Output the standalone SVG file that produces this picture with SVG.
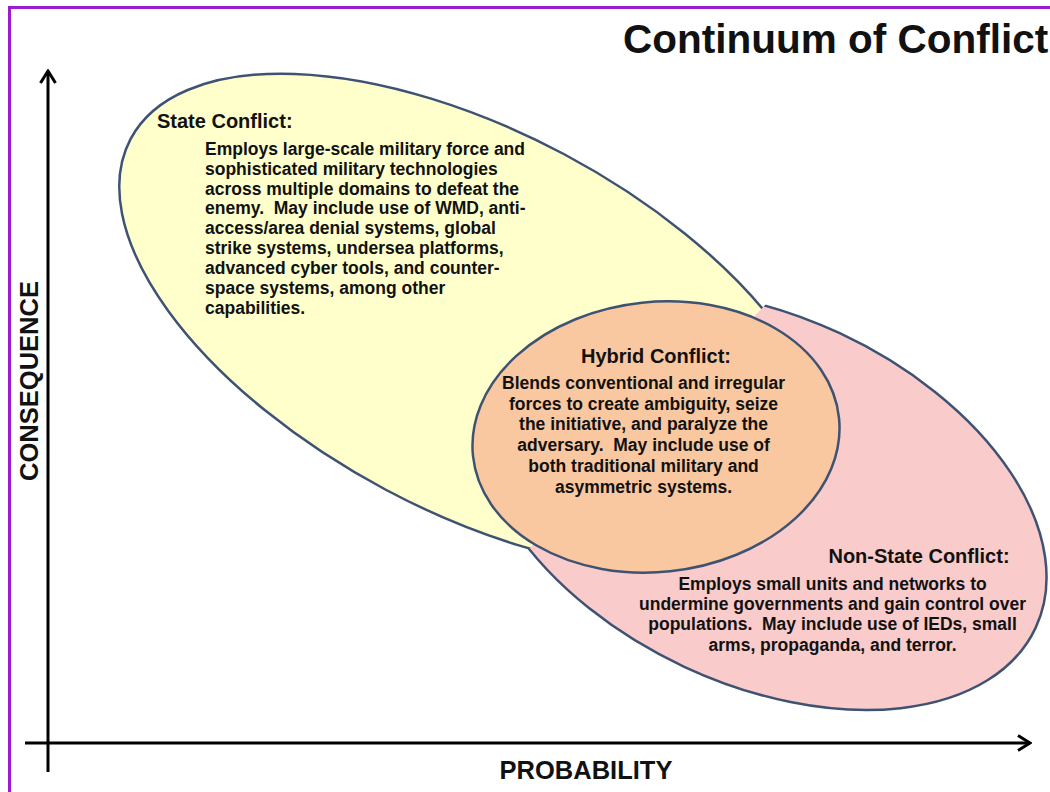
<svg xmlns="http://www.w3.org/2000/svg" width="1050" height="792" viewBox="0 0 1050 792">
<defs>
<style>
.t{font-family:"Liberation Sans",Arial,sans-serif;font-weight:bold;fill:#111;white-space:pre}
.h{font-size:20px}
.b{font-size:17.5px}
.ax{font-size:25.5px}
.el{stroke:#3E5373;stroke-width:2.5}
.axis{stroke:#000;stroke-width:3;fill:none}
</style>
<marker id="arr" viewBox="0 0 16 18" refX="14" refY="9" markerWidth="16" markerHeight="18" markerUnits="userSpaceOnUse" orient="auto">
<path d="M2,1.5 L14,9 L2,16.5" fill="none" stroke="#000" stroke-width="3"/>
</marker>
<clipPath id="pinkclip">
<polygon points="770,300 770,240 1100,240 1100,800 400,800 400,560 530,548"/>
</clipPath>
</defs>
<rect width="1050" height="792" fill="#fff"/>
<rect x="9.5" y="7.5" width="1100" height="900" fill="none" stroke="#9A1BD0" stroke-width="3"/>
<text class="t" x="623" y="53" font-size="40.5">Continuum of Conflict</text>

<g id="connectors">
<line class="axis" x1="48" y1="772" x2="48" y2="71" marker-end="url(#arr)"/>
<line class="axis" x1="25" y1="743" x2="1030" y2="743" marker-end="url(#arr)"/>
</g>
<text class="t ax" transform="translate(38,381) rotate(-90)" text-anchor="middle">CONSEQUENCE</text>
<text class="t ax" x="586" y="779" text-anchor="middle">PROBABILITY</text>

<g id="state">
<ellipse class="el" cx="475" cy="322" rx="390" ry="190" transform="rotate(28 475 322)" fill="#FFFFCC"/>
<text class="t h" x="157" y="128">State Conflict:</text>
<text class="t b">
<tspan x="205" y="155">Employs large-scale military force and</tspan>
<tspan x="205" y="175">sophisticated military technologies</tspan>
<tspan x="205" y="195">across multiple domains to defeat the</tspan>
<tspan x="205" y="214">enemy.  May include use of WMD, anti-</tspan>
<tspan x="205" y="234">access/area denial systems, global</tspan>
<tspan x="205" y="254">strike systems, undersea platforms,</tspan>
<tspan x="205" y="274">advanced cyber tools, and counter-</tspan>
<tspan x="205" y="294">space systems, among other</tspan>
<tspan x="205" y="314">capabilities.</tspan>
</text>
</g>

<g id="nonstate">
<g clip-path="url(#pinkclip)">
<ellipse class="el" cx="762" cy="500" rx="302" ry="184" transform="rotate(25 762 500)" fill="#F9CBCB"/>
</g>
<text class="t h" x="919" y="563" text-anchor="middle">Non-State Conflict:</text>
<text class="t b" text-anchor="middle">
<tspan x="835" y="590">Employs small units and networks to</tspan>
<tspan x="835" y="610">undermine governments and gain control over</tspan>
<tspan x="835" y="630">populations.  May include use of IEDs, small</tspan>
<tspan x="835" y="651">arms, propaganda, and terror.</tspan>
</text>
</g>

<g id="hybrid">
<ellipse class="el" cx="656" cy="437" rx="184" ry="135" transform="rotate(-6 656 437)" fill="#F9C8A0"/>
<text class="t h" x="656" y="363" text-anchor="middle">Hybrid Conflict:</text>
<text class="t b" text-anchor="middle">
<tspan x="646" y="389">Blends conventional and irregular</tspan>
<tspan x="646" y="410">forces to create ambiguity, seize</tspan>
<tspan x="646" y="430">the initiative, and paralyze the</tspan>
<tspan x="646" y="451">adversary.  May include use of</tspan>
<tspan x="646" y="472">both traditional military and</tspan>
<tspan x="646" y="493">asymmetric systems.</tspan>
</text>
</g>
</svg>
